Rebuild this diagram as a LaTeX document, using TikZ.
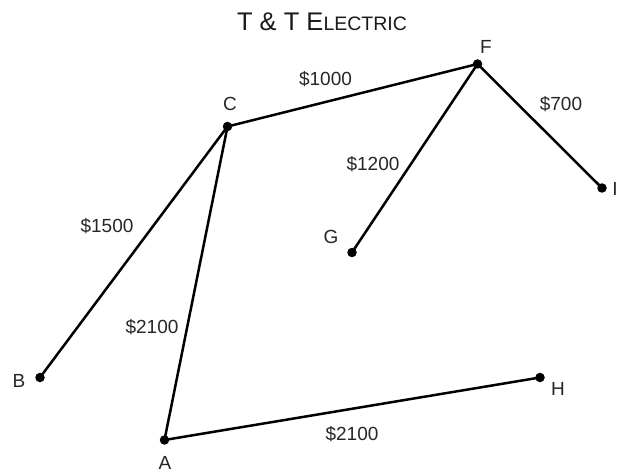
\documentclass[tikz,border=0pt]{standalone}
\usepackage{fontspec}
\setmainfont{Liberation Sans}
\begin{document}
\begin{tikzpicture}[x=1pt,y=-1pt,
  pt/.style={circle,fill=black,inner sep=0pt,minimum size=9.5pt},
  edge/.style={line width=2.5pt,black},
  lbl/.style={font=\fontsize{19}{22}\selectfont,inner sep=0pt,text=black!85},
  cost/.style={font=\fontsize{19}{22}\selectfont,inner sep=0pt,text=black!85}]
\useasboundingbox (0,0) rectangle (619,473);
\node[font=\fontsize{25.5}{30}\selectfont,inner sep=0pt,text=black!90] (title) at (322,22) {T \& T E{\fontsize{19.5}{23}\selectfont LECTRIC}};
\node[pt] (A) at (164.5,440) {};
\node[pt] (B) at (40,377.5) {};
\node[pt] (C) at (227.5,126.5) {};
\node[pt] (F) at (477.5,64) {};
\node[pt] (G) at (352,252.5) {};
\node[pt] (H) at (540,377.5) {};
\node[pt] (I) at (602,188) {};
\node[lbl] (lA) at (165,463) {A};
\node[lbl] (lB) at (19,381) {B};
\node[lbl] (lC) at (230,104) {C};
\node[lbl] (lF) at (486,47) {F};
\node[lbl] (lG) at (331,237) {G};
\node[lbl] (lH) at (558,389) {H};
\node[lbl] (lI) at (615,189) {I};
\draw[edge] (C.center) -- (F.center);
\draw[edge] (F.center) -- (I.center);
\draw[edge] (F.center) -- (G.center);
\draw[edge] (C.center) -- (B.center);
\draw[edge] (C.center) -- (A.center);
\draw[edge] (A.center) -- (H.center);
\node[cost] (cCF) at (325.5,79) {\$1000};
\node[cost] (cFI) at (561,104) {\$700};
\node[cost] (cFG) at (373,164) {\$1200};
\node[cost] (cCB) at (107,226) {\$1500};
\node[cost] (cCA) at (152,327) {\$2100};
\node[cost] (cAH) at (352,434) {\$2100};
\end{tikzpicture}
\end{document}
